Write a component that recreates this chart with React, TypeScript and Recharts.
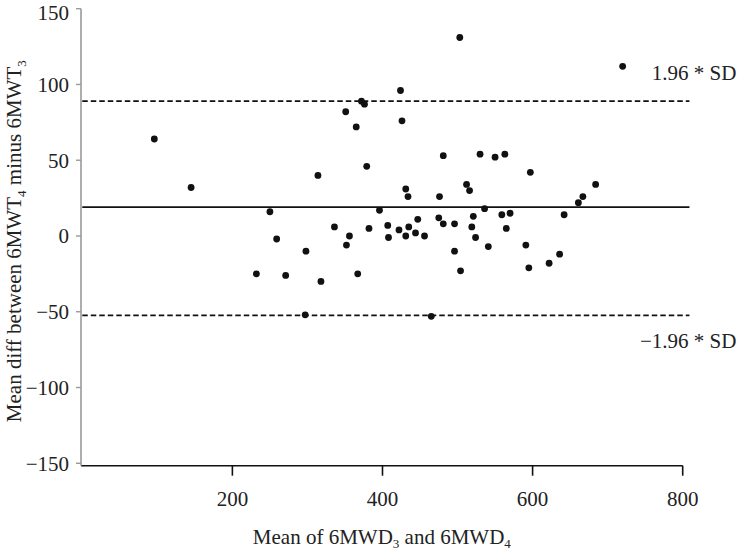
import React from 'react';
import { ScatterChart, Scatter, XAxis, YAxis, ReferenceLine, Label } from 'recharts';

const meanValues = [
  96, 145, 232, 250, 259, 271, 298, 297, 314, 318, 336, 351, 352, 356, 365, 367,
  372, 376, 379, 382, 396, 407, 408, 422, 424, 426, 431, 434, 431, 435, 444, 447,
  456, 465, 475, 476, 481, 481, 496, 496, 503, 504, 512, 516, 521, 519, 524, 530,
  536, 541, 550, 563, 559, 570, 565, 597, 591, 595, 622, 636, 642, 661, 667, 684, 720,
];
const diffValues = [
  64, 32, -25, 16, -2, -26, -10, -52, 40, -30, 6, 82, -6, 0, 72, -25,
  89, 87, 46, 5, 17, 7, -1, 4, 96, 76, 31, 26, 0, 6, 2, 11,
  0, -53, 12, 26, 53, 8, 8, -10, 131, -23, 34, 30, 13, 6, -1, 54,
  18, -7, 52, 54, 14, 15, 5, 42, -6, -21, -18, -12, 14, 22, 26, 34, 112,
];
const xTicks = [200, 400, 600, 800];
const yTicks = [-150, -100, -50, 0, 50, 100, 150];
const meanDiff = 19;
const upperLimit = 89;
const lowerLimit = -52.4;
const upperLabel = '1.96 * SD';
const lowerLabel = '\u22121.96 * SD';

const data = meanValues.map((x, i) => ({ x, y: diffValues[i] }));

const FONT = '"Liberation Serif", "Times New Roman", serif';
const TXT = '#222';

const fmt = (v: number) => (v < 0 ? '\u2212' + Math.abs(v) : String(v));

const Dot = (props: any) => {
  const { cx, cy } = props;
  if (cx == null || cy == null) return null;
  return <circle cx={cx} cy={cy} r={3.4} fill="#111" />;
};

const XLabel = (props: any) => {
  const vb = props.viewBox || {};
  const cx = vb.x + vb.width / 2;
  const y = vb.y + 78.5;
  return (
    <text x={cx} y={y} textAnchor="middle" fontFamily={FONT} fontSize={21} fill={TXT}>
      <tspan>Mean of 6MWD</tspan>
      <tspan fontSize={13} dy={4}>3</tspan>
      <tspan dy={-4}> and 6MWD</tspan>
      <tspan fontSize={13} dy={4}>4</tspan>
    </text>
  );
};

const YLabel = (props: any) => {
  const vb = props.viewBox || {};
  const cy = vb.y + vb.height / 2 + 4;
  return (
    <text
      x={0}
      y={0}
      transform={`translate(21, ${cy}) rotate(-90)`}
      textAnchor="middle"
      fontFamily={FONT}
      fontSize={21}
      fill={TXT}
    >
      <tspan>Mean diff between 6MWT</tspan>
      <tspan fontSize={13} dy={5}>4</tspan>
      <tspan dy={-5}> minus 6MWT</tspan>
      <tspan fontSize={13} dy={5}>3</tspan>
    </text>
  );
};

const makeRefLabel = (text: string, dyBase: number) => (props: any) => {
  const vb = props.viewBox || {};
  const x = vb.x + vb.width + 47;
  const y = vb.y + dyBase;
  return (
    <text x={x} y={y} textAnchor="end" fontFamily={FONT} fontSize={21} fill={TXT}>
      {text}
    </text>
  );
};

export default function App() {
  return (
    <div style={{ position: 'absolute', left: 0, top: 0, width: 740, height: 550, background: '#fff' }}>
      <ScatterChart
        width={740}
        height={550}
        margin={{ top: 8.7, right: 57.3, bottom: 0, left: 0 }}
        style={{ fontFamily: FONT }}
      >
        <XAxis
          type="number"
          dataKey="x"
          domain={[-1.7, 800]}
          ticks={xTicks}
          allowDataOverflow
          height={84.3}
          tickSize={10}
          tickMargin={15}
          axisLine={{ stroke: '#111', strokeWidth: 1.6 }}
          tickLine={{ stroke: '#111', strokeWidth: 1.6 }}
          tick={{ fontFamily: FONT, fontSize: 21, fill: TXT }}
        >
          <Label content={<XLabel />} />
        </XAxis>
        <YAxis
          type="number"
          dataKey="y"
          domain={[-151.6, 150]}
          ticks={yTicks}
          allowDataOverflow
          width={81}
          tickSize={5}
          tickMargin={7}
          tickFormatter={fmt}
          axisLine={{ stroke: '#9a9a9a', strokeWidth: 1.6 }}
          tickLine={{ stroke: '#9a9a9a', strokeWidth: 1.4 }}
          tick={{ fontFamily: FONT, fontSize: 21, fill: TXT }}
        >
          <Label content={<YLabel />} />
        </YAxis>
        <ReferenceLine
          segment={[{ x: 0, y: upperLimit }, { x: 809, y: upperLimit }]}
          ifOverflow="visible"
          stroke="#111"
          strokeWidth={1.8}
          strokeDasharray="5.5 3"
          label={makeRefLabel(upperLabel, -21)}
        />
        <ReferenceLine
          segment={[{ x: 0, y: meanDiff }, { x: 809, y: meanDiff }]}
          ifOverflow="visible"
          stroke="#111"
          strokeWidth={1.8}
        />
        <ReferenceLine
          segment={[{ x: 0, y: lowerLimit }, { x: 809, y: lowerLimit }]}
          ifOverflow="visible"
          stroke="#111"
          strokeWidth={1.8}
          strokeDasharray="5.5 3"
          label={makeRefLabel(lowerLabel, 32.4)}
        />
        <Scatter data={data} shape={<Dot />} isAnimationActive={false} />
      </ScatterChart>
    </div>
  );
}
